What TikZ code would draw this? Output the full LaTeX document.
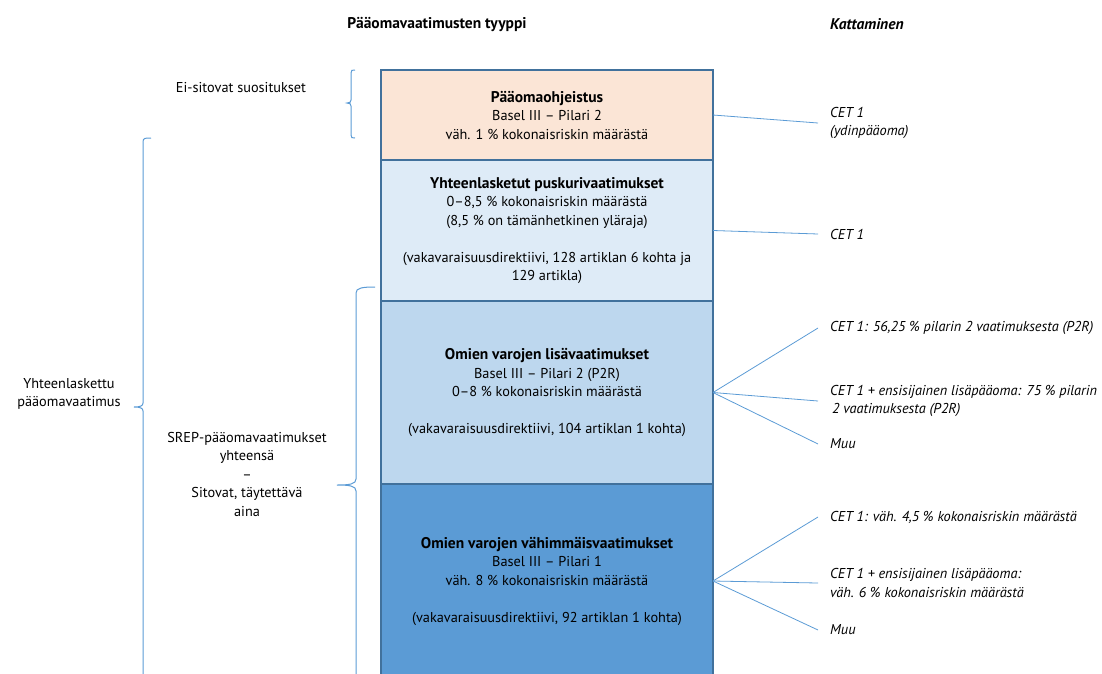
\documentclass[tikz,border=0pt]{standalone}
\usepackage{fontspec}
\setmainfont{PT Sans}
\usepackage{tikz}
\usetikzlibrary{positioning}
\definecolor{EdgeBlue}{HTML}{41719C}
\definecolor{LineBlue}{HTML}{5B9BD5}
\definecolor{Peach}{HTML}{FBE5D6}
\definecolor{PaleBlue}{HTML}{DEEBF7}
\definecolor{MidBlue}{HTML}{BDD7EE}
\definecolor{DeepBlue}{HTML}{5B9BD5}
\newcommand{\txt}{\fontsize{14.3}{18.5}\selectfont}
\newcommand{\hd}[1]{{\fontsize{15.5}{18.5}\selectfont\bfseries #1}}

\begin{document}
\begin{tikzpicture}[
  x=1pt, y=-1pt,
  every node/.style={font=\txt},
  box/.style={draw=EdgeBlue, line width=1.4pt, align=center, minimum width=332pt, outer sep=0pt, inner sep=0pt},
  lab/.style={anchor=west, align=left, inner xsep=12pt, inner ysep=0pt, font=\txt\itshape},
  conn/.style={draw=LineBlue, line width=0.8pt},
  brc/.style={draw=LineBlue, line width=1pt}
]
\useasboundingbox (0,0) rectangle (1102,673);
\node (hdtype) at (437,24) {\hd{Pääomavaatimusten tyyppi}};
\node[anchor=west, inner xsep=0pt] (hdcov) at (830,24) {\hd{\itshape Kattaminen}};

\node[box, fill=Peach, minimum height=90pt] (guid) at (547,115) {\hd{Pääomaohjeistus}\\Basel III – Pilari 2\\väh. 1 \% kokonaisriskin määrästä};
\node[box, fill=PaleBlue, minimum height=141pt, below=0pt of guid] (buff) {\hd{Yhteenlasketut puskurivaatimukset}\\0–8,5 \% kokonaisriskin määrästä\\(8,5 \% on tämänhetkinen yläraja)\\[18.5pt](vakavaraisuusdirektiivi, 128 artiklan 6 kohta ja\\129 artikla)};
\node[box, fill=MidBlue, minimum height=183pt, below=0pt of buff] (addon) {\hd{Omien varojen lisävaatimukset}\\Basel III – Pilari 2 (P2R)\\0–8 \% kokonaisriskin määrästä\\[18.5pt](vakavaraisuusdirektiivi, 104 artiklan 1 kohta)};
\node[box, fill=DeepBlue, minimum height=194pt, below=0pt of addon] (minreq) {\hd{Omien varojen vähimmäisvaatimukset}\\Basel III – Pilari 1\\väh. 8 \% kokonaisriskin määrästä\\[18.5pt](vakavaraisuusdirektiivi, 92 artiklan 1 kohta)};

\node[lab] (cov1) at (818,123) {CET 1\\(ydinpääoma)};
\node[lab] (cov2) at (818,234) {CET 1};
\node[lab] (cov31) at (818,328) {CET 1: 56,25 \% pilarin 2 vaatimuksesta (P2R)};
\node[lab] (cov32) at (818,401) {CET 1 + ensisijainen lisäpääoma: 75 \% pilarin\\\hspace{2pt}2 vaatimuksesta (P2R)};
\node[lab] (cov33) at (818,444) {Muu};
\node[lab] (cov41) at (818,517) {CET 1: väh. 4,5 \% kokonaisriskin määrästä};
\node[lab] (cov42) at (818,583) {CET 1 + ensisijainen lisäpääoma:\\väh. 6 \% kokonaisriskin määrästä};
\node[lab] (cov43) at (818,630) {Muu};

\draw[conn] (guid.east) -- (cov1.west);
\draw[conn] (buff.east) -- (cov2.west);
\draw[conn] (addon.east) -- (cov31.west);
\draw[conn] (addon.east) -- (cov32.west);
\draw[conn] (addon.east) -- (cov33.west);
\draw[conn] (minreq.east) -- (cov41.west);
\draw[conn] (minreq.east) -- (cov42.west);
\draw[conn] (minreq.east) -- (cov43.west);

\node[align=center] (nonbind) at (241,88) {Ei-sitovat suositukset};
\node[align=center] (total) at (69,394) {Yhteenlaskettu\\pääomavaatimus};
\node[align=center] (srep) at (247,474) {SREP-pääomavaatimukset\\yhteensä\\–\\Sitovat, täytettävä\\aina};

\draw[brc] (355,70) .. controls (352,70) and (351,70) .. (351,73) -- (351,100)
  .. controls (351,102) and (350,103) .. (347,103) .. controls (350,103) and (351,104) .. (351,106)
  -- (351,135) .. controls (351,138) and (352,138) .. (355,138);
\draw[brc] (151,138) .. controls (145,138) and (143,138) .. (143,142) -- (143,403)
  .. controls (143,406) and (140,407) .. (134,407) .. controls (140,407) and (143,408) .. (143,411)
  -- (143,700);
\draw[brc] (375,287) .. controls (362,287) and (356,288) .. (356,293) -- (356,479)
  .. controls (356,484) and (350,485) .. (337,485) .. controls (350,485) and (356,486) .. (356,491)
  -- (356,700);
\end{tikzpicture}
\end{document}
